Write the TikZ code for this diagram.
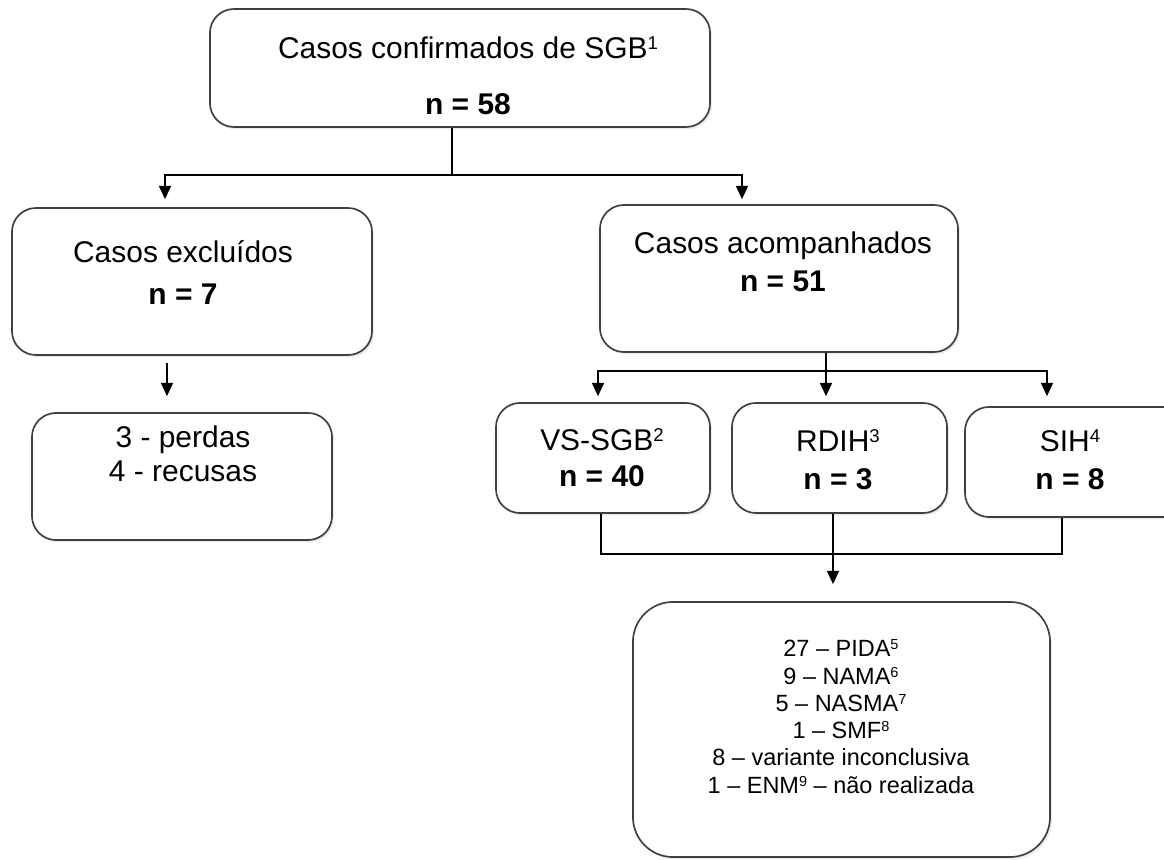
\documentclass[tikz,border=0pt]{standalone}
\usepackage{fontspec}
\setmainfont{Liberation Sans}
\usetikzlibrary{arrows.meta,shadows}

\newcommand{\nsup}[1]{\raisebox{0.3em}{\scalebox{0.62}{#1}}}

\begin{document}
\begin{tikzpicture}[
  x=0.025cm, y=-0.025cm,
  every node/.style={font=\fontsize{21.3}{26}\selectfont},
  box/.style={draw=black!75, line width=1.2pt, rounded corners=0.6cm, fill=white, inner sep=0pt,
    drop shadow={shadow xshift=0.05cm, shadow yshift=-0.06cm, opacity=0.15}},
  txt/.style={align=center, inner sep=0pt},
  small/.style={align=center, inner sep=0pt, font=\fontsize{16.7}{19.4}\selectfont},
  line/.style={line width=1.1pt},
  arrow/.style={line width=1.1pt, -{Triangle[length=0.33cm, width=0.3cm]}},
]

\useasboundingbox (0,0) rectangle (1164,860);

% top
\node[box, minimum width=12.5cm, minimum height=2.95cm] (conf) at (460,68) {};
\node[txt] (conft) at (468,75.5) {Casos confirmados de SGB\nsup{1}\\[14pt]\textbf{n = 58}};

% left branch
\node[box, minimum width=9cm, minimum height=3.675cm] (excl) at (192,281.5) {};
\node[txt] (exclt) at (183,272.5) {Casos excluídos\\[4.5pt]\textbf{n = 7}};

\node[box, minimum width=7.5cm, minimum height=3.175cm] (loss) at (182,476.5) {};
\node[txt] (losst) at (183,454) {3 - perdas\\[-2pt]4 - recusas};

% right branch
\node[box, minimum width=8.95cm, minimum height=3.675cm] (acomp) at (779,278.5) {};
\node[txt] (acompt) at (783,262) {Casos acompanhados\\[1pt]\textbf{n = 51}};

\node[box, minimum width=5.35cm, minimum height=2.75cm] (vs) at (603,458) {};
\node[txt] (vst) at (602,457.5) {VS-SGB\nsup{2}\\\textbf{n = 40}};

\node[box, minimum width=5.375cm, minimum height=2.75cm] (rdih) at (839.5,458) {};
\node[txt] (rdiht) at (838,460) {RDIH\nsup{3}\\[1pt]\textbf{n = 3}};

\node[box, minimum width=5.875cm, minimum height=2.75cm] (sih) at (1082.5,462) {};
\node[txt] (siht) at (1070,460) {SIH\nsup{4}\\[1pt]\textbf{n = 8}};

% results
\node[box, rounded corners=1cm, minimum width=10.425cm, minimum height=6.375cm] (res) at (841.5,729.5) {};
\node[small] (rest) at (841,716.6) {27 – PIDA\nsup{5}\\
  9 – NAMA\nsup{6}\\
  5 – NASMA\nsup{7}\\
  1 – SMF\nsup{8}\\
  8 – variante inconclusiva\\
  1 – ENM\nsup{9} – não realizada};

% connectors
\coordinate (j1) at (452,175);
\draw[line] (conf.south -| j1) -- (j1);
\draw[arrow, shorten >=0.2cm] (j1) -| ([xshift=-0.675cm]excl.north);
\draw[arrow, shorten >=0.125cm] (j1) -| ([xshift=-0.925cm]acomp.north);

\draw[arrow, shorten <=0.175cm, shorten >=0.4cm] ([xshift=-0.625cm]excl.south) -- ([xshift=-0.625cm]excl.south |- loss.north);

\coordinate (j2) at (826,371);
\draw[line] (acomp.south -| j2) -- (j2);
\draw[arrow, shorten >=0.15cm] (j2) -| ([xshift=-0.125cm]vs.north);
\draw[arrow, shorten >=0.15cm] (j2) -- (j2 |- rdih.north);
\draw[arrow, shorten >=0.25cm] (j2) -| ([xshift=-0.8875cm]sih.north);

\draw[line] ([xshift=-0.05cm]vs.south) -- ++(0,40) -| ([xshift=-0.5125cm]sih.south);
\draw[arrow, shorten >=0.425cm] ([xshift=-0.1625cm]rdih.south) -- ([xshift=-0.1625cm]rdih.south |- res.north);

\end{tikzpicture}
\end{document}
